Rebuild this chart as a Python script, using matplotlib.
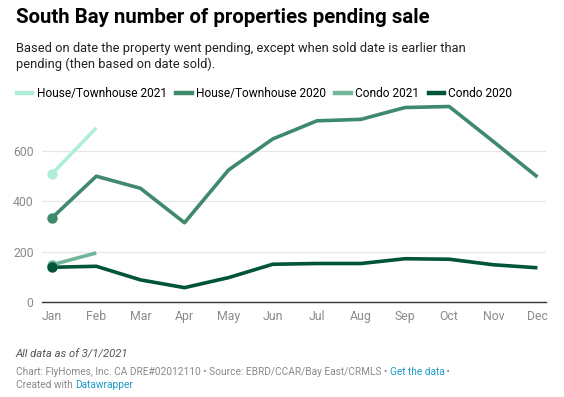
import numpy as np
import matplotlib.pyplot as plt
from matplotlib.lines import Line2D

plt.rcParams['font.family'] = ['Roboto', 'DejaVu Sans']

months = ['Jan', 'Feb', 'Mar', 'Apr', 'May', 'Jun', 'Jul', 'Aug', 'Sep', 'Oct', 'Nov', 'Dec']
house_2021 = [510, 692]
house_2020 = [335, 500, 452, 315, 525, 648, 720, 726, 773, 777, 638, 497]
condo_2021 = [148, 195]
condo_2020 = [138, 142, 88, 57, 97, 150, 153, 153, 172, 170, 148, 136]

series = [
    ('House/Townhouse 2021', house_2021, '#b0eed8'),
    ('House/Townhouse 2020', house_2020, '#3f8a6c'),
    ('Condo 2021', condo_2021, '#72b69a'),
    ('Condo 2020', condo_2020, '#00543a'),
]

fig = plt.figure(figsize=(5.64, 3.97), dpi=100)
ax = fig.add_axes([0.0745, 0.2393, 0.894, 0.507])

for name, vals, col in series:
    x = np.arange(len(vals))
    ax.plot(x, vals, color=col, lw=2.6, solid_capstyle='butt', solid_joinstyle='round', zorder=3)
    ax.plot(x[0], vals[0], 'o', color=col, ms=6.5, zorder=4)

ax.set_xlim(-0.23, 11.2)
ax.set_ylim(0, 800)
ax.set_yticks([0, 200, 400, 600])
ax.set_xticks(range(12))
ax.set_xticklabels(months)
ax.grid(axis='y', color='#e6e6e6', lw=0.9, zorder=0)
for s in ['top', 'right', 'left']:
    ax.spines[s].set_visible(False)
ax.spines['bottom'].set_color('#333333')
ax.spines['bottom'].set_linewidth(1.0)
ax.tick_params(axis='both', length=0, labelsize=8.8, labelcolor='#8a8a8a')
ax.tick_params(axis='y', pad=6)
ax.tick_params(axis='x', pad=6)

handles = [Line2D([0], [0], color=c, lw=3.2) for _, _, c in series]
fig.legend(handles, [n for n, _, _ in series], loc='center left', bbox_to_anchor=(0.030, 0.765),
           ncol=4, frameon=False, fontsize=8.6, handlelength=1.3, handletextpad=0.35,
           columnspacing=0.8, borderaxespad=0, borderpad=0)

fig.text(0.028, 0.955, 'South Bay number of properties pending sale', fontsize=14.65,
         fontweight='bold', color='#000000', va='center')
fig.text(0.028, 0.878, 'Based on date the property went pending, except when sold date is earlier than',
         fontsize=9.25, color='#222222', va='center')
fig.text(0.028, 0.838, 'pending (then based on date sold).', fontsize=9.25, color='#222222', va='center')

fig.text(0.028, 0.108, 'All data as of 3/1/2021', fontsize=8.15, style='italic', color='#555555', va='center')

# footer pieces placed one after another
renderer = fig.canvas.get_renderer()
def inline(parts, y):
    x = 0.028
    for txt, col in parts:
        t = fig.text(x, y, txt, fontsize=7.3, color=col, va='center')
        bb = t.get_window_extent(renderer)
        x += bb.width / fig.bbox.width

gray = '#8a8a8a'
blue = '#1d9bc6'
inline([('Chart: FlyHomes, Inc. CA DRE#02012110 \u2022 Source: EBRD/CCAR/Bay East/CRMLS \u2022 ', gray),
        ('Get the data', blue), (' \u2022', gray)], 0.063)
inline([('Created with ', gray), ('Datawrapper', blue)], 0.031)

fig.savefig('out.png', dpi=100, facecolor='white')
